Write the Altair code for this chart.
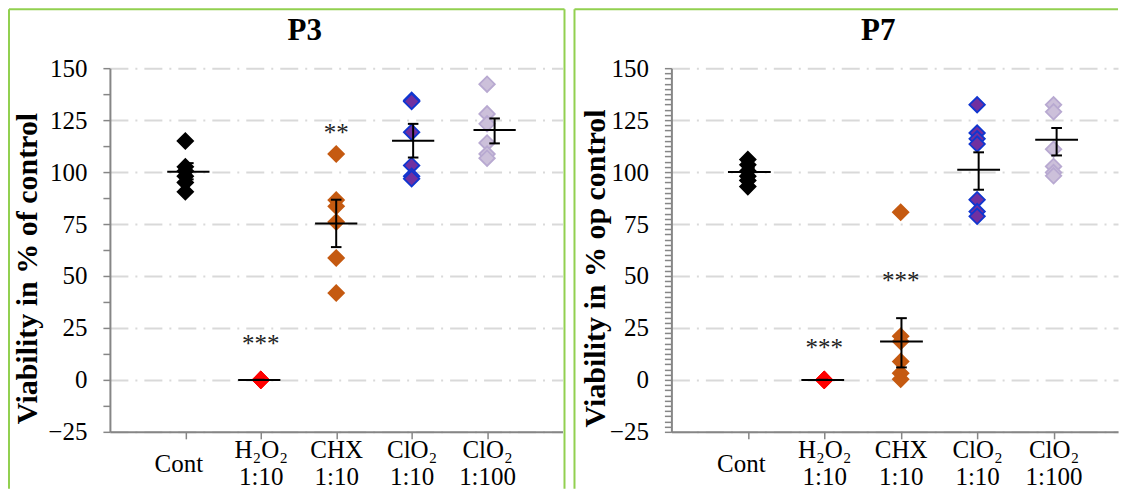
import altair as alt
import pandas as pd

# ---------------- data ----------------
categories = ["Cont", "H2O2 1:10", "CHX 1:10", "ClO2 1:10", "ClO2 1:100"]
cat_pos = [1, 2, 3, 4, 5]
label_lines = [["Cont"], ["H₂O₂", "1:10"], ["CHX", "1:10"], ["ClO₂", "1:10"], ["ClO₂", "1:100"]]

fill_colors = ["#000000", "#FF0000", "#C55A11", "#7030A0", "#CCC0DA"]
stroke_colors = ["#000000", "#FF0000", "#C55A11", "#1036D0", "#B8A9D1"]

# P3 individual values
p3_cont = [115, 102.5, 100.5, 98, 95, 90.5]
p3_h2o2 = [0, 0, 0, 0, 0, 0]
p3_chx = [108.7, 86.5, 83.5, 76, 58.7, 41.8]
p3_clo2_10 = [134.5, 134, 119.2, 103.2, 98, 96.8]
p3_clo2_100 = [142.3, 128, 123.2, 114, 108.7, 106.7]
p3_mean = [100.2, 0, 75.3, 115.1, 120.2]
p3_err_lo = [96.5, 0, 63.9, 107, 113.8]
p3_err_hi = [104.3, 0, 86.7, 123.2, 125.8]
p3_mean_shift = [0.04, -0.02, 0.0, 0.02, 0.1]
p3_star_x = [2, 3]
p3_star_y = [19.7, 121]
p3_star_txt = ["***", "**"]

# P7 individual values
p7_cont = [106, 103.5, 100.5, 98, 96, 93]
p7_h2o2 = [0, 0, 0, 0, 0, 0]
p7_chx = [80.7, 21, 18.5, 8.8, 3.2, 0.3]
p7_clo2_10 = [132.4, 118.8, 116, 113.5, 86.7, 81, 78.7]
p7_clo2_100 = [132.4, 129, 111, 102.7, 99.8, 98.2]
p7_mean = [100, 0, 18.5, 101.1, 115.6]
p7_err_lo = [98, 0, 6, 91.5, 108]
p7_err_hi = [102, 0, 29.7, 109.5, 121.2]
p7_mean_shift = [0.02, -0.02, 0.01, 0.02, 0.04]
p7_star_x = [2, 3]
p7_star_y = [17.7, 50]
p7_star_txt = ["***", "***"]

FONT = "Liberation Serif"
H = 364
GREEN = "#92D050"


def label_expr():
    parts = []
    for v, lines in zip(cat_pos, label_lines):
        if len(lines) == 1:
            s = "'" + lines[0] + "'"
        else:
            s = "[" + ", ".join("'" + l + "'" for l in lines) + "]"
        parts.append((v, s))
    expr = "''"
    for v, s in reversed(parts):
        expr = f"datum.value == {v} ? {s} : ({expr})"
    return expr


def panel(title, ytitle, groups, mean, lo, hi, shift, star_x, star_y, star_txt,
          minor_step, W, xmax, border_left, border_right, title_x, ytitle_x):
    rows = []
    for g, vals in enumerate(groups):
        for v in vals:
            rows.append({"x": cat_pos[g], "y": v, "grp": categories[g]})
    pts = pd.DataFrame(rows)

    mdf = pd.DataFrame({
        "xm": [c + s for c, s in zip(cat_pos, shift)],
        "mean": mean, "lo": lo, "hi": hi,
    })
    mdf["xl"] = mdf["xm"] - 0.28
    mdf["xr"] = mdf["xm"] + 0.28
    mdf["cl"] = mdf["xm"] - 0.07
    mdf["cr"] = mdf["xm"] + 0.07
    caps = pd.concat([
        mdf[["cl", "cr"]].assign(cy=mdf["lo"]),
        mdf[["cl", "cr"]].assign(cy=mdf["hi"]),
    ])
    stars = pd.DataFrame({"x": star_x, "y": star_y, "t": star_txt})

    n = int(round(175 / minor_step))
    yvals = [-25 + i * minor_step for i in range(n + 1)]

    xscale = alt.Scale(domain=[0, xmax], nice=False, zero=False)
    yscale = alt.Scale(domain=[-25, 150], nice=False, zero=False)

    xaxis = alt.Axis(
        values=cat_pos, labelExpr=label_expr(), title=None, grid=False,
        labelBaseline="middle",
        labelPadding={"condition": {"test": "datum.value == 1", "value": 25}, "value": 11},
        labelOffset={"condition": {"test": "datum.value == 1", "value": -7}, "value": 0},
        labelLineHeight=27,
        labelFontSize=25, labelFont=FONT, labelColor="black",
        tickSize=7, labelOverlap=False, labelFlush=False,
    )
    yaxis = alt.Axis(
        values=yvals, title=ytitle,
        labelExpr="datum.value % 25 === 0 ? datum.label : ''",
        labelFontSize=25, labelFont=FONT, labelColor="black",
        labelPadding=16, tickSize=7,
        gridOpacity={"condition": {"test": "datum.value % 25 === 0", "value": 1}, "value": 0},
        gridColor="#D9D9D9", gridWidth=2, gridDash=[18, 7, 2, 7],
        titleFont=FONT, titleFontSize=30, titleFontWeight="bold", titleColor="black",
        titleX=ytitle_x, titleY=200, titleBaseline="alphabetic", titleAlign="center",
        titleAngle=270,
    )

    one = pd.DataFrame({"a": [0]})
    bottom = 421

    borders = [
        alt.Chart(one).mark_rule(color=GREEN, strokeWidth=2).encode(
            x=alt.value(border_left), y=alt.value(-59), y2=alt.value(bottom)),
        alt.Chart(one).mark_rule(color=GREEN, strokeWidth=2).encode(
            x=alt.value(border_left), x2=alt.value(border_right if border_right is not None else W),
            y=alt.value(-59)),
    ]
    if border_right is not None:
        borders.append(alt.Chart(one).mark_rule(color=GREEN, strokeWidth=2).encode(
            x=alt.value(border_right), y=alt.value(-59), y2=alt.value(bottom)))

    ttl = alt.Chart(one).mark_text(
        text=title, font=FONT, fontSize=31, fontWeight="bold",
        baseline="alphabetic", align="center", color="black"
    ).encode(x=alt.value(title_x), y=alt.value(-28))

    points = alt.Chart(pts).mark_point(
        shape="diamond", filled=True, size=240, strokeWidth=1.8, opacity=1
    ).encode(
        x=alt.X("x:Q", scale=xscale, axis=xaxis),
        y=alt.Y("y:Q", scale=yscale, axis=yaxis),
        fill=alt.Fill("grp:N", scale=alt.Scale(domain=categories, range=fill_colors), legend=None),
        stroke=alt.Stroke("grp:N", scale=alt.Scale(domain=categories, range=stroke_colors), legend=None),
    )

    mean_line = alt.Chart(mdf).mark_rule(color="black", strokeWidth=2).encode(
        x=alt.X("xl:Q", scale=xscale, axis=xaxis), x2="xr:Q",
        y=alt.Y("mean:Q", scale=yscale, axis=yaxis),
    )
    err = alt.Chart(mdf).mark_rule(color="black", strokeWidth=2).encode(
        x=alt.X("xm:Q", scale=xscale, axis=xaxis),
        y=alt.Y("lo:Q", scale=yscale, axis=yaxis), y2="hi:Q",
    )
    cap = alt.Chart(caps).mark_rule(color="black", strokeWidth=2).encode(
        x=alt.X("cl:Q", scale=xscale, axis=xaxis), x2="cr:Q",
        y=alt.Y("cy:Q", scale=yscale, axis=yaxis),
    )
    star = alt.Chart(stars).mark_text(
        font=FONT, fontSize=25, color="#222222", baseline="middle", align="center", dy=5
    ).encode(
        x=alt.X("x:Q", scale=xscale, axis=xaxis),
        y=alt.Y("y:Q", scale=yscale, axis=yaxis),
        text="t:N",
    )

    return alt.layer(*borders, ttl, points, mean_line, err, cap, star).properties(
        width=W, height=H
    )


left = panel("P3", "Viability in % of control",
             [p3_cont, p3_h2o2, p3_chx, p3_clo2_10, p3_clo2_100],
             p3_mean, p3_err_lo, p3_err_hi, p3_mean_shift,
             p3_star_x, p3_star_y, p3_star_txt,
             12.5, 453, 6, -101, 455, 195, -73)
right = panel("P7", "Viability in % op control",
              [p7_cont, p7_h2o2, p7_chx, p7_clo2_10, p7_clo2_100],
              p7_mean, p7_err_lo, p7_err_hi, p7_mean_shift,
              p7_star_x, p7_star_y, p7_star_txt,
              2.5, 447, 447 / 76.5, -97, None, 207, -67)

chart = alt.hconcat(left, right, spacing=8).resolve_scale(
    x="independent", y="independent", fill="independent", stroke="independent"
).properties(padding=0).configure(
    font=FONT, background="white"
).configure_view(strokeWidth=0).configure_axis(
    domainColor="#868686", tickColor="#868686", domainWidth=2, tickWidth=1.5
)

chart.save("out.html", embed_options={"renderer": "svg", "actions": False})
